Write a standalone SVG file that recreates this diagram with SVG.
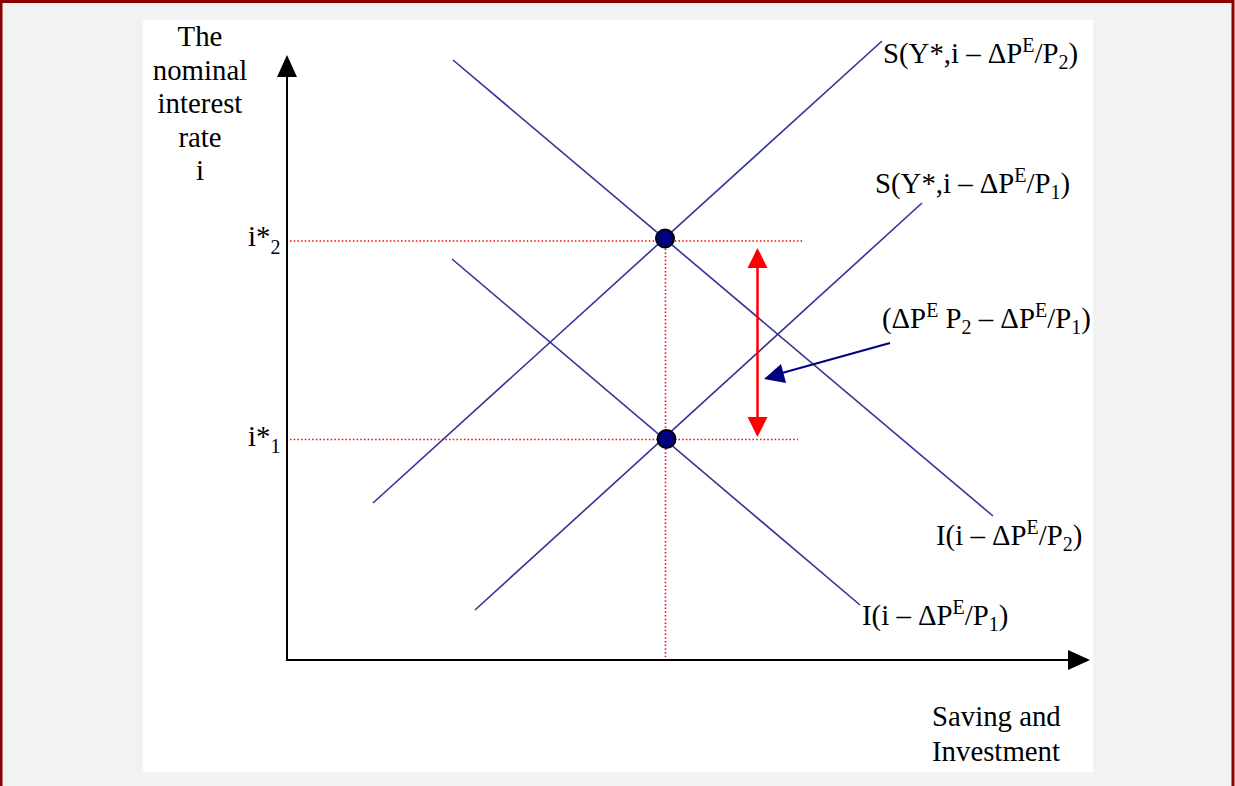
<svg xmlns="http://www.w3.org/2000/svg" width="1235" height="786" viewBox="0 0 1235 786">
<style>
.t{font-family:"Liberation Serif","Times New Roman",serif;font-size:28.8px;fill:#000}
.s{font-size:20px}
.curve{stroke:#333399;stroke-width:1.6;fill:none}
.dot{stroke:#ff0000;stroke-width:1.6;stroke-dasharray:1.5 2.2;fill:none}
.axis{stroke:#000;stroke-width:2;fill:none}
</style>
<rect x="0" y="0" width="1235" height="786" fill="#f2f2f2"/>
<rect x="143" y="20" width="950" height="752" fill="#ffffff"/>
<rect x="1" y="1.5" width="1232" height="790" fill="none" stroke="#8b0000" stroke-width="3"/>

<g id="axes">
<line class="axis" x1="287" y1="661" x2="287" y2="75"/>
<polygon points="287,55 277,77 297,77" fill="#000"/>
<line class="axis" x1="286" y1="660" x2="1070" y2="660"/>
<polygon points="1090,660 1068,650 1068,670" fill="#000"/>
</g>

<g id="guides">
<line class="dot" x1="290" y1="241" x2="803" y2="241"/>
<line class="dot" x1="290" y1="439.5" x2="798" y2="439.5"/>
<line class="dot" x1="665.5" y1="245" x2="665.5" y2="657"/>
</g>

<g id="curves">
<line id="S2" class="curve" x1="373" y1="503" x2="882" y2="41"/>
<line id="I2" class="curve" x1="453" y1="60" x2="993" y2="516"/>
<line id="S1" class="curve" x1="475" y1="610" x2="922" y2="203"/>
<line id="I1" class="curve" x1="452" y1="259" x2="860" y2="605"/>
</g>

<g id="equilibria">
<circle cx="665" cy="238.5" r="9" fill="#000080" stroke="#000" stroke-width="2"/>
<circle cx="666.5" cy="439" r="9" fill="#000080" stroke="#000" stroke-width="2"/>
</g>

<g id="connectors">
<line x1="757.5" y1="266" x2="757.5" y2="418" stroke="#ff0000" stroke-width="2.5"/>
<polygon points="757.5,248 747.5,268 767.5,268" fill="#ff0000"/>
<polygon points="757.5,437 747.5,417 767.5,417" fill="#ff0000"/>
<line x1="890" y1="343" x2="782" y2="373" stroke="#000080" stroke-width="2"/>
<polygon points="764,379 781,364 786,383" fill="#000080"/>
</g>

<g id="label-y">
<text class="t" text-anchor="middle" x="200" y="46">The</text>
<text class="t" text-anchor="middle" x="200" y="80">nominal</text>
<text class="t" text-anchor="middle" x="200" y="113">interest</text>
<text class="t" text-anchor="middle" x="200" y="147">rate</text>
<text class="t" text-anchor="middle" x="200" y="180">i</text>
</g>
<g id="label-x">
<text class="t" x="932" y="726">Saving and</text>
<text class="t" x="932" y="761">Investment</text>
</g>
<g id="label-i2">
<text class="t" x="248" y="246">i*<tspan class="s" dy="8">2</tspan></text>
</g>
<g id="label-i1">
<text class="t" x="248" y="446">i*<tspan class="s" dy="7">1</tspan></text>
</g>
<g id="label-S2">
<text class="t" x="883" y="63">S(Y*,i – ΔP<tspan class="s" dy="-11">E</tspan><tspan dy="11">/P</tspan><tspan class="s" dy="6">2</tspan><tspan dy="-6">)</tspan></text>
</g>
<g id="label-S1">
<text class="t" x="875" y="193">S(Y*,i – ΔP<tspan class="s" dy="-11">E</tspan><tspan dy="11">/P</tspan><tspan class="s" dy="6">1</tspan><tspan dy="-6">)</tspan></text>
</g>
<g id="label-diff">
<text class="t" x="882" y="328">(ΔP<tspan class="s" dy="-11">E</tspan><tspan dy="11"> P</tspan><tspan class="s" dy="6">2</tspan><tspan dy="-6"> – ΔP</tspan><tspan class="s" dy="-11">E</tspan><tspan dy="11">/P</tspan><tspan class="s" dy="6">1</tspan><tspan dy="-6">)</tspan></text>
</g>
<g id="label-I2">
<text class="t" x="936" y="545">I(i – ΔP<tspan class="s" dy="-11">E</tspan><tspan dy="11">/P</tspan><tspan class="s" dy="6">2</tspan><tspan dy="-6">)</tspan></text>
</g>
<g id="label-I1">
<text class="t" x="862" y="625">I(i – ΔP<tspan class="s" dy="-11">E</tspan><tspan dy="11">/P</tspan><tspan class="s" dy="6">1</tspan><tspan dy="-6">)</tspan></text>
</g>
</svg>
